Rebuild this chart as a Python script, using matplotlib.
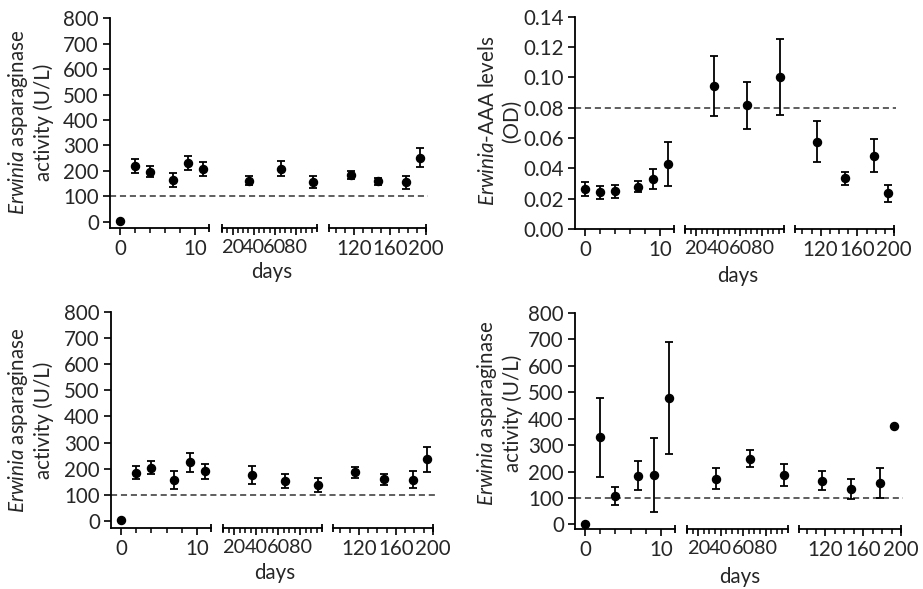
import numpy as np
import matplotlib.pyplot as plt
from matplotlib import transforms

plt.rcParams['font.family'] = ['Lato', 'DejaVu Sans']
plt.rcParams['mathtext.fontset'] = 'custom'
plt.rcParams['mathtext.it'] = 'Lato:italic'
plt.rcParams['mathtext.rm'] = 'Lato'

TXT = '#262626'
FS = 14.8

# sampling days (same for all four panels)
days = [0, 2, 4, 7, 9, 11, 36, 66, 96, 116, 147, 178, 193]

# top-left: Erwinia asparaginase activity (U/L)
tl_mean = [3, 220, 197, 164, 232, 206, 161, 209, 156, 182, 159, 155, 252]
tl_err = [np.nan, 27, 23, 28, 28, 28, 17, 30, 22, 16, 13, 26, 38]

# top-right: Erwinia-AAA levels (OD)
tr_mean = [0.0264, 0.0242, 0.0248, 0.0279, 0.0327, 0.0431, 0.0943, 0.0815, 0.100,
           0.0576, 0.0334, 0.0484, 0.0235]
tr_err = [0.0046, 0.0044, 0.0042, 0.0036, 0.0066, 0.0145, 0.0197, 0.0154, 0.025,
          0.0133, 0.0045, 0.0107, 0.0058]

# bottom-left
bl_mean = [3, 185, 203, 158, 224, 190, 176, 154, 138, 186, 159, 158, 236]
bl_err = [np.nan, 24, 25, 34, 36, 30, 34, 27, 27, 20, 20, 33, 48]

# bottom-right
br_mean = [3, 329, 106, 185, 186, 477, 173, 249, 187, 166, 134, 157, 371]
br_err = [np.nan, 150, 34, 54, 140, 211, 40, 31, 43, 35, 39, 58, np.nan]

thr_act = 100
thr_od = 0.08

W, H = 923, 589
fig = plt.figure(figsize=(W / 100, H / 100), dpi=100)

# x-axis segments: limits, data range, major ticks, minor ticks, label size
segs = [
    ((-1.3, 11.8), (-1, 12), [0, 10], [2, 4, 6, 8], FS),
    ((10, 100), (12, 100), [20, 40, 60, 80], [v for v in range(10, 101, 5) if v % 20], 14.3),
    ((92, 200), (100, 201), [120, 160, 200], [v for v in range(100, 200, 10) if v % 40], FS),
]

# pixel layout per panel: (bottom, top, [seg x-ranges], ylabel centre, days centre)
panels = [
    dict(mean=tl_mean, err=tl_err, ylim=(-25, 800), yt=np.arange(0, 801, 100), fmt='{:.0f}',
         thr=thr_act, bot=228, top=18.3, xs=[(110, 209), (222, 317), (329, 426)],
         ylab='$\\mathit{Erwinia}$ asparaginase\nactivity (U/L)', lab=(30, 122), dl=(272, 272)),
    dict(mean=tr_mean, err=tr_err, ylim=(0, 0.14), yt=np.arange(0, 0.141, 0.02), fmt='{:.2f}',
         thr=thr_od, bot=229, top=16.7, xs=[(575, 674), (685, 784), (795, 894)],
         ylab='$\\mathit{Erwinia}$-AAA levels\n(OD)', lab=(500, 121), dl=(738, 276)),
    dict(mean=bl_mean, err=bl_err, ylim=(-25, 800), yt=np.arange(0, 801, 100), fmt='{:.0f}',
         thr=thr_act, bot=527.5, top=312, xs=[(111, 211), (223, 322), (333, 433)],
         ylab='$\\mathit{Erwinia}$ asparaginase\nactivity (U/L)', lab=(30, 420), dl=(275, 573)),
    dict(mean=br_mean, err=br_err, ylim=(-17, 800), yt=np.arange(0, 801, 100), fmt='{:.0f}',
         thr=thr_act, bot=529, top=312.7, xs=[(575, 675), (687, 788), (799, 901)],
         ylab='$\\mathit{Erwinia}$ asparaginase\nactivity (U/L)', lab=(499, 413), dl=(740, 577)),
]

d = np.array(days)
for p in panels:
    m = np.array(p['mean'], dtype=float)
    e = np.array(p['err'], dtype=float)
    axes = []
    for i, ((xl, xr), (lo, hi), major, minor, lfs) in enumerate(segs):
        x0, x1 = p['xs'][i]
        ax = fig.add_axes([x0 / W, 1 - p['bot'] / H, (x1 - x0) / W, (p['bot'] - p['top']) / H])
        ax.set_facecolor('none')
        ax.set_xlim(xl, xr)
        ax.set_ylim(*p['ylim'])
        for s in ['top', 'right']:
            ax.spines[s].set_visible(False)
        ax.spines['bottom'].set_linewidth(1.3)
        ax.spines['left'].set_linewidth(1.3)
        ax.set_xticks(major)
        ax.set_xticks(minor, minor=True)
        ax.set_xticklabels([str(v) for v in major])
        ax.tick_params(axis='x', which='major', length=5, width=1.2, pad=3,
                       labelsize=lfs, labelcolor=TXT)
        ax.tick_params(axis='x', which='minor', length=3.5, width=1.1)
        if i == 0:
            ax.set_yticks(p['yt'])
            ax.set_yticklabels([p['fmt'].format(v) for v in p['yt']])
            ax.tick_params(axis='y', length=5, width=1.2, pad=3, labelsize=FS, labelcolor=TXT)
        else:
            ax.spines['left'].set_visible(False)
            ax.set_yticks([])
        # segment end caps
        caps = [xr] if i == 0 else [xl, xr]
        ax.plot(caps, [0] * len(caps), transform=transforms.blended_transform_factory(ax.transData, ax.transAxes),
                marker='|', ms=6, mew=1.3, ls='none', color='black', clip_on=False)
        sel = (d >= lo) & (d < hi)
        ax.errorbar(d[sel], m[sel], yerr=e[sel], fmt='o', color='black', ms=5.8,
                    capsize=3, elinewidth=1.3, capthick=1.3, clip_on=False, zorder=3)
        axes.append(ax)
    # dashed threshold across all segments
    ax0 = axes[0]
    tr = transforms.blended_transform_factory(fig.transFigure, ax0.transData)
    ax0.plot([p['xs'][0][0] / W, (p['xs'][2][1] + 2) / W], [p['thr'], p['thr']], transform=tr,
             ls=(0, (4, 2.5)), color='#333333', lw=1.1, clip_on=False, zorder=1)
    fig.text(p['lab'][0] / W, 1 - p['lab'][1] / H, p['ylab'], rotation=90, ha='center', va='center',
             multialignment='center', fontsize=FS, color=TXT, linespacing=1.25)
    fig.text(p['dl'][0] / W, 1 - p['dl'][1] / H, 'days', ha='center', va='center', fontsize=FS, color=TXT)

fig.savefig('out.png', dpi=100)
